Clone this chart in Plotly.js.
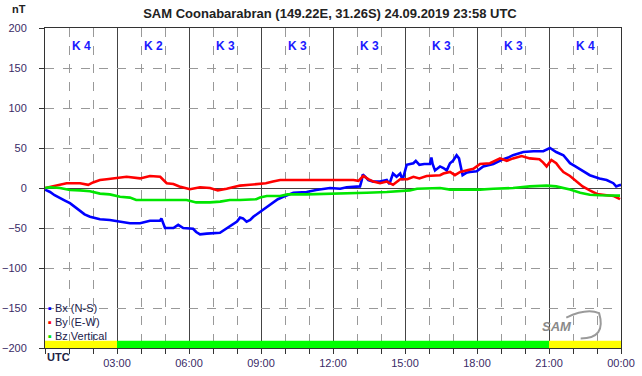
<!DOCTYPE html>
<html>
<head>
<meta charset="utf-8">
<script src="https://cdn.plot.ly/plotly-3.0.1.min.js"></script>
<style>html,body{margin:0;padding:0;background:#fff;}#chart{width:642px;height:376px;}</style>
</head>
<body>
<div id="chart"></div>
<script>
// ---- data (hours UTC, nT) ----
var tBx = [0,0.21,0.4,0.625,0.85,1.04,1.25,1.46,1.65,1.875,2.1,2.29,2.7,3.125,3.54,3.96,4.2,4.375,4.79,4.85,5.0,5.35,5.55,5.76,6.17,6.3,6.46,6.74,7.29,7.45,7.57,7.8,8.0,8.125,8.25,8.4,8.55,8.68,8.96,9.24,9.5,9.7,9.93,10.15,10.35,10.9,11.3,11.875,12.3,12.57,13.125,13.2,13.24,13.35,13.47,13.68,13.96,14.24,14.35,14.5,14.65,14.8,14.9,15.07,15.2,15.35,15.45,15.6,15.8,16.04,16.1,16.15,16.25,16.46,16.6,16.74,16.875,17.0,17.15,17.25,17.4,17.55,17.7,17.99,18.26,18.68,19.1,19.3,19.5,19.7,19.93,20.35,20.76,21.04,21.15,21.3,21.6,21.75,21.875,22.1,22.3,22.5,22.7,23.1,23.4,23.68,23.8,23.9,24];
var bx  = [-2,-5,-9,-13,-16,-19,-24,-28,-33,-36,-38,-39,-40,-42,-44,-44,-42,-41,-41,-38,-50,-50,-46,-50,-51,-55,-58,-57,-56,-53,-50,-46,-42,-37,-38,-42,-40,-36,-30,-24,-18,-14,-11,-8,-6,-5,-2.5,0,-1,1,2,10,17,14,10,8,8,10,5,18,14,18,10,29,30,31,34,29,30,30,38,30,22,27,25,22,31,34,41,37,16,19,20,21,27,30,36,38,41,43,45,46,46,50,48,45,41,36,31,27,23,20,16,12,10,6,2,3,4];

var tBy = [0,0.35,0.625,0.9,1.46,1.8,2.0,2.29,2.57,3.0,3.4,3.96,4.375,4.8,4.95,5.07,5.35,5.6,6.04,6.46,6.875,7.2,7.57,7.9,8.125,8.54,8.96,9.2,9.5,9.8,12.0,12.85,13.06,13.26,13.47,13.68,13.96,14.24,14.5,14.7,14.8,15.1,15.35,15.6,15.9,16.46,16.6,16.875,17.08,17.3,17.57,17.85,18.125,18.54,18.96,19.24,19.5,19.86,20.2,20.6,20.75,20.9,21.1,21.3,21.45,21.6,21.875,22.15,22.4,22.7,23.0,23.4,23.7,23.96];
var by  = [0,2,4,6,6,4,7,10,11,13,14,12,15,14,10,6,5,2,-1.5,1,0,-3,-1,1,3,4,5,6,8,10,10,10,9,15,11,8,6,8,4,8,11,11,14,12,15,16,18,20,16,20,22,24,30,31,37,34,37,40,37,36,32,27,35,31,25,20,15,8,2,-3,-7.5,-9,-10,-14];

var tBz = [0,0.21,0.625,1.04,1.46,1.875,2.29,2.7,3.125,3.54,3.8,4.375,5.35,5.9,6.3,6.875,7.3,7.7,8.125,8.8,8.96,9.24,9.8,10.1,10.9,12.3,13.26,13.4,14.24,14.8,15.2,15.5,16.04,16.46,16.875,17.3,18.125,18.68,19.5,20.2,20.9,21.3,21.6,21.875,22.3,22.7,23.1,23.5,23.96];
var bz  = [0,1,0,-2.5,-3,-4,-7,-8,-11,-12,-15,-15,-15,-15,-18,-18,-17,-15,-15,-14,-12,-10,-10,-8,-8,-7,-7,-6,-5,-4,-3,-1,0,0,-2,-2,-2,-1,0,2,3,2,0,-2,-6,-8.5,-9,-9,-9.5];

var seriesNames  = ["Bx (N-S)", "By (E-W)", "Bz Vertical"];
var seriesColors = ["#0000ff", "#ff0000", "#00e600"];

var kCenters = [1.5,4.5,7.5,10.5,13.5,16.5,19.5,22.5];
var kValues  = [4,2,3,3,3,3,3,4];

var xTickVals = [0,3,6,9,12,15,18,21,24];
var xTickText = ["","03:00","06:00","09:00","12:00","15:00","18:00","21:00","00:00"];

var bandStart = [0,3,21];
var bandEnd   = [3,21,24];
var bandColor = ["#ffff00","#00ff00","#ffff00"];

var titleText = "SAM Coonabarabran (149.22E, 31.26S) 24.09.2019 23:58 UTC";

// ---- traces ----
var xs = [tBx, tBy, tBz], ys = [bx, by, bz];
var traces = xs.map(function(x, i){
  return {x:x, y:ys[i], type:"scatter", mode:"lines", name:seriesNames[i],
          line:{color:seriesColors[i], width:2.6}, showlegend:false, hoverinfo:"skip"};
});

var fam = "Liberation Sans, Arial, sans-serif";
var labelColor = "#3a2a66";
var annotations = [];
kCenters.forEach(function(c, i){
  annotations.push({x:c, y:0.972, xref:"x", yref:"paper", text:"<b>K " + kValues[i] + "</b>",
    showarrow:false, font:{family:fam, size:12, color:"#1a1aff"}});
});
var legendY = [-150, -168, -185];
seriesNames.forEach(function(n, i){
  annotations.push({x:0.05, y:legendY[i], xref:"x", yref:"y", xanchor:"left", yanchor:"middle",
    text:"<span style='color:" + seriesColors[i] + "'>▪</span> " + n, showarrow:false,
    font:{family:fam, size:11, color:"#1a1a4a"}});
});
annotations.push({x:0.0, y:-0.027, xref:"paper", yref:"paper", text:"<b>UTC</b>", showarrow:false,
  xanchor:"left", yanchor:"middle", font:{family:fam, size:11, color:"#222244"}});
annotations.push({x:-0.045, y:1.06, xref:"paper", yref:"paper", text:"<b>nT</b>", showarrow:false,
  xanchor:"center", yanchor:"middle", font:{family:fam, size:11, color:"#222"}});
annotations.push({x:0.918, y:0.066, xref:"paper", yref:"paper", text:"<i><b>SAM</b></i>", showarrow:false,
  yanchor:"middle", font:{family:fam, size:13, color:"#8a8a8a"}});

var shapes = bandStart.map(function(s, i){
  return {type:"rect", xref:"x", yref:"y", x0:s, x1:bandEnd[i], y0:-200, y1:-191,
          fillcolor:bandColor[i], line:{width:0}, layer:"above"};
});
shapes.push({type:"path", xref:"paper", yref:"paper",
  path:"M 0.93 0.03 Q 0.975 0.03 0.962 0.109 Q 0.94 0.125 0.905 0.095",
  line:{color:"#9a9a9a", width:2}, fillcolor:"rgba(0,0,0,0)"});

var layout = {
  width:642, height:376,
  margin:{l:45, r:21, t:28, b:28},
  paper_bgcolor:"#fff", plot_bgcolor:"#fff",
  font:{family:fam, size:11, color:labelColor},
  title:{text:"<b>" + titleText + "</b>", x:0.514, xanchor:"center", y:0.963, yanchor:"middle",
         font:{family:fam, size:13, color:"#222"}},
  showlegend:false,
  xaxis:{range:[0,24], tickvals:xTickVals, ticktext:xTickText, ticks:"outside", ticklen:5,
         tickcolor:"#333", showgrid:true, gridcolor:"#444", gridwidth:1,
         showline:true, linecolor:"#333", mirror:true, zeroline:false,
         minor:{dtick:1, ticks:"outside", ticklen:5, tickcolor:"#333", showgrid:true,
                gridcolor:"#999", griddash:"dash", gridwidth:1},
         fixedrange:true, tickfont:{size:11, color:labelColor}},
  yaxis:{range:[-200,200], dtick:50, ticks:"outside", ticklen:5, tickcolor:"#333",
         showgrid:true, gridcolor:"#999", griddash:"dash", gridwidth:1,
         zeroline:true, zerolinecolor:"#444", zerolinewidth:1,
         showline:true, linecolor:"#333", mirror:true, ticklabelstandoff:10,
         fixedrange:true, tickfont:{size:11, color:labelColor}},
  annotations:annotations,
  shapes:shapes
};

Plotly.newPlot("chart", traces, layout, {displayModeBar:false, staticPlot:true});
</script>
</body>
</html>
